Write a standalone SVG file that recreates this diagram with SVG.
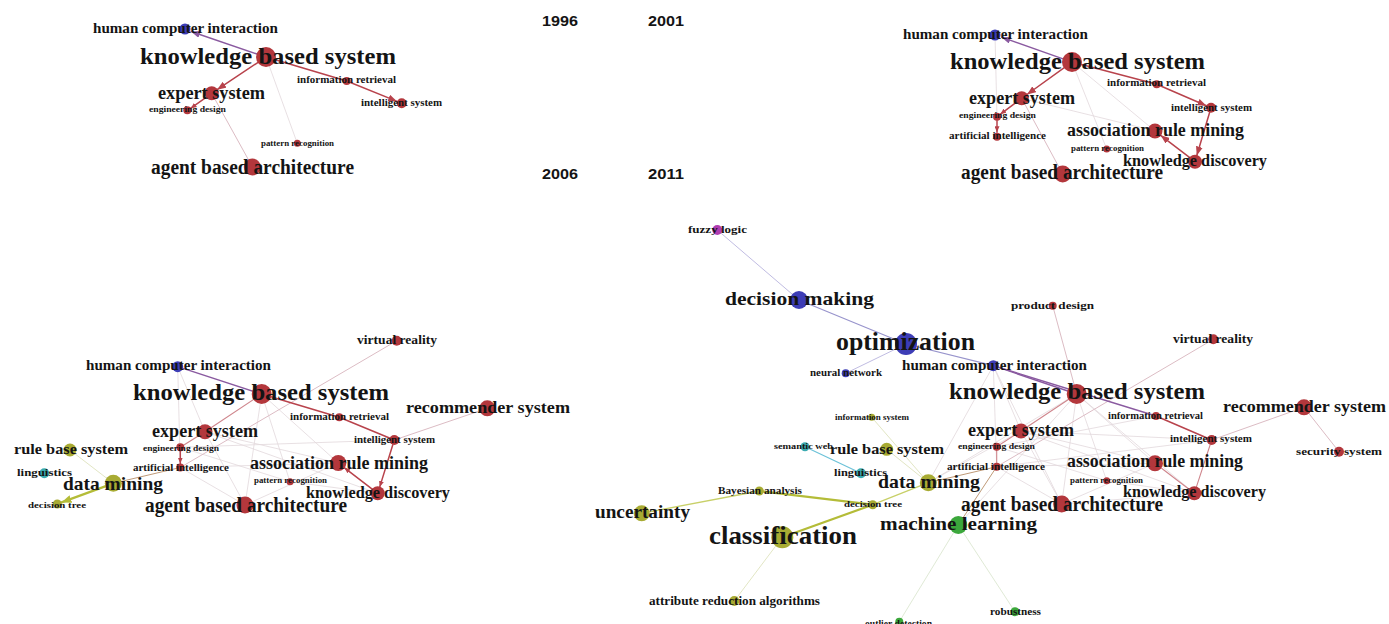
<svg xmlns="http://www.w3.org/2000/svg" width="1389" height="624" viewBox="0 0 1389 624">
<style>
.bg{fill:#ffffff}
.r{fill:#b3373c}.b{fill:#3d3db6}.o{fill:#a8ab33}.c{fill:#3babb1}.g{fill:#3ba73b}.m{fill:#b03cb0}
.t{font-family:"Liberation Serif","DejaVu Serif",serif;font-weight:bold;fill:#141414}
.y{font-family:"Liberation Sans","DejaVu Sans",sans-serif;font-weight:bold;font-size:15.5px;fill:#141414}
.e{fill:none;stroke-linecap:round}
.er{stroke:#b8434c;stroke-width:1.5}
.erl{stroke:#cf868d;stroke-width:1.1}
.ep{stroke:#8a5aa0;stroke-width:1.4}
.ef{stroke:#e2d8dc;stroke-width:0.8}
.epk{stroke:#dcbcc4;stroke-width:1}
.ey{stroke:#b4bc38;stroke-width:2.2}
.eyl{stroke:#c8d068;stroke-width:1.3}
.eyf{stroke:#e2e6c4;stroke-width:1}
.ebr{stroke:#bf9a78;stroke-width:1}
.ec{stroke:#6cc2d8;stroke-width:1.2}
.ebl{stroke:#c0bce2;stroke-width:1}
.ebd{stroke:#9894cc;stroke-width:1.2}
.egl{stroke:#e0ead6;stroke-width:1}
</style>
<defs>
<marker id="ar" markerUnits="userSpaceOnUse" markerWidth="9" markerHeight="7" refX="9" refY="3.5" orient="auto"><path d="M0,0 L9,3.5 L0,7 z" fill="#b8434c"/></marker>
<marker id="ap" markerUnits="userSpaceOnUse" markerWidth="9" markerHeight="7" refX="9" refY="3.5" orient="auto"><path d="M0,0 L9,3.5 L0,7 z" fill="#8a5aa0"/></marker>
<marker id="ay" markerUnits="userSpaceOnUse" markerWidth="10" markerHeight="8" refX="10" refY="4" orient="auto"><path d="M0,0 L10,4 L0,8 z" fill="#b4bc38"/></marker>
<marker id="as" markerUnits="userSpaceOnUse" markerWidth="6" markerHeight="5" refX="6" refY="2.5" orient="auto"><path d="M0,0 L6,2.5 L0,5 z" fill="#b8434c"/></marker>
</defs>
<rect class="bg" x="0" y="0" width="1389" height="624"/>

<g id="years">
<text class="y" x="542" y="26" textLength="36" lengthAdjust="spacingAndGlyphs">1996</text>
<text class="y" x="648" y="26" textLength="36" lengthAdjust="spacingAndGlyphs">2001</text>
<text class="y" x="542" y="179" textLength="36" lengthAdjust="spacingAndGlyphs">2006</text>
<text class="y" x="648" y="179" textLength="36" lengthAdjust="spacingAndGlyphs">2011</text>
</g>

<g id="connectors">
<!-- 1996 -->
<line class="e epk" x1="211.7" y1="93.3" x2="252.3" y2="166.7"/>
<line class="e ef" x1="266" y1="57" x2="297.3" y2="143.3"/>
<line class="e ep" x1="257" y1="54" x2="191" y2="31.5" marker-end="url(#ap)"/>
<line class="e er" x1="266" y1="57" x2="346.7" y2="81"/>
<line class="e er" x1="346.7" y1="81" x2="397.1" y2="101.4" stroke-width="2" marker-end="url(#ar)"/>
<line class="e er" x1="258.1" y1="62.3" x2="217.1" y2="89.7" marker-end="url(#ar)"/>
<line class="e er" x1="211.7" y1="93.3" x2="190.6" y2="108.4" stroke-width="1.1" marker-end="url(#as)"/>
<!-- 2001 -->
<line class="e ef" x1="995" y1="35" x2="997" y2="116.7"/>
<line class="e ef" x1="1072" y1="62" x2="1155" y2="131"/>
<line class="e ef" x1="1021.7" y1="98.3" x2="1155" y2="131"/>
<line class="e epk" x1="1021.7" y1="98.3" x2="1062.7" y2="174"/>
<line class="e ef" x1="1072" y1="62" x2="1106.7" y2="149"/>
<line class="e ep" x1="1063" y1="58.9" x2="1001.5" y2="37.2" marker-end="url(#ap)"/>
<line class="e er" x1="1072" y1="62" x2="1156.7" y2="84.3"/>
<line class="e er" x1="1156.7" y1="84.3" x2="1206.4" y2="105.7" stroke-width="2" marker-end="url(#ar)"/>
<line class="e er" x1="1064.3" y1="67.6" x2="1027" y2="94.5" marker-end="url(#ar)"/>
<line class="e er" x1="1021.7" y1="98.3" x2="1000.2" y2="114.3" stroke-width="1.1" marker-end="url(#as)"/>
<line class="e er" x1="997" y1="120.7" x2="997" y2="132.2" marker-end="url(#as)"/>
<line class="e er" x1="1209.6" y1="112.5" x2="1196.8" y2="155.5" marker-end="url(#ar)"/>
<line class="e er" x1="1189.8" y1="157.7" x2="1160.6" y2="135.3" marker-end="url(#ar)"/>
<!-- 2006 -->
<line class="e ef" x1="177.7" y1="366.7" x2="180.3" y2="467.5"/>
<line class="e ef" x1="177.7" y1="366.7" x2="205" y2="431.7"/>
<line class="e ef" x1="261.7" y1="394" x2="245" y2="505"/>
<line class="e ef" x1="261.7" y1="394" x2="338.3" y2="463"/>
<line class="e ef" x1="261.7" y1="394" x2="290" y2="481.7"/>
<line class="e ef" x1="205" y1="431.7" x2="338.3" y2="463"/>
<line class="e ef" x1="205" y1="431.7" x2="377.7" y2="493.3"/>
<line class="e ef" x1="180.3" y1="447.3" x2="394.3" y2="440"/>
<line class="e ef" x1="180.3" y1="447.3" x2="290" y2="481.7"/>
<line class="e ef" x1="180.3" y1="467.5" x2="245" y2="505"/>
<line class="e ef" x1="180.3" y1="467.5" x2="338.3" y2="463"/>
<line class="e ef" x1="290" y1="481.7" x2="377.7" y2="493.3"/>
<line class="e ef" x1="245" y1="505" x2="338.3" y2="463"/>
<line class="e ef" x1="205" y1="431.7" x2="245" y2="505"/>
<line class="e epk" x1="396.7" y1="340.7" x2="180.3" y2="467.5"/>
<line class="e epk" x1="487.3" y1="408.3" x2="394.3" y2="440"/>
<line class="e eyf" x1="70" y1="450" x2="113.3" y2="483.3"/>
<line class="e ebr" x1="113.3" y1="483.3" x2="180.3" y2="467.5"/>
<line class="e ep" x1="261.7" y1="394" x2="177.7" y2="366.7" stroke-width="1.1"/>
<line class="e er" x1="261.7" y1="394" x2="339.3" y2="417.3" stroke-width="1.2"/>
<line class="e er" x1="339.3" y1="417.3" x2="394.3" y2="440"/>
<line class="e erl" x1="261.7" y1="394" x2="205" y2="431.7"/>
<line class="e erl" x1="205" y1="431.7" x2="180.3" y2="447.3"/>
<line class="e er" x1="180.3" y1="451.3" x2="180.3" y2="463.5" stroke-width="1" marker-end="url(#as)"/>
<line class="e er" x1="392.8" y1="444.8" x2="379.7" y2="487.1" stroke-width="1.2" marker-end="url(#as)"/>
<line class="e er" x1="372.5" y1="489.3" x2="344.2" y2="467.6" stroke-width="1.2" marker-end="url(#as)"/>
<line class="e ey" x1="105.8" y1="486.1" x2="61.5" y2="502.4" marker-end="url(#ay)"/>
<!-- 2011 -->
<line class="e ef" x1="993.3" y1="365.7" x2="928.3" y2="482.7"/>
<line class="e ef" x1="993.3" y1="365.7" x2="996.7" y2="466.7"/>
<line class="e ef" x1="993.3" y1="365.7" x2="1061.7" y2="504"/>
<line class="e ef" x1="993.3" y1="365.7" x2="1021" y2="431"/>
<line class="e ef" x1="1076.7" y1="394" x2="1061.7" y2="504"/>
<line class="e ef" x1="1076.7" y1="394" x2="1155" y2="463.3"/>
<line class="e ef" x1="1076.7" y1="394" x2="1106.7" y2="480.7"/>
<line class="e ef" x1="1076.7" y1="394" x2="1194.3" y2="493.3"/>
<line class="e ef" x1="1076.7" y1="394" x2="928.3" y2="482.7"/>
<line class="e ef" x1="1021" y1="431" x2="1155" y2="463.3"/>
<line class="e ef" x1="1021" y1="431" x2="1194.3" y2="493.3"/>
<line class="e ef" x1="1021" y1="431" x2="1211.7" y2="440"/>
<line class="e ef" x1="1021" y1="431" x2="1061.7" y2="504"/>
<line class="e ef" x1="996.7" y1="446.7" x2="1156" y2="416"/>
<line class="e ef" x1="996.7" y1="446.7" x2="1106.7" y2="480.7"/>
<line class="e ef" x1="996.7" y1="466.7" x2="1061.7" y2="504"/>
<line class="e ef" x1="996.7" y1="466.7" x2="1155" y2="463.3"/>
<line class="e ef" x1="996.7" y1="466.7" x2="1211.7" y2="440"/>
<line class="e ef" x1="1106.7" y1="480.7" x2="1194.3" y2="493.3"/>
<line class="e ef" x1="1061.7" y1="504" x2="1155" y2="463.3"/>
<line class="e ef" x1="1061.7" y1="504" x2="1194.3" y2="493.3"/>
<line class="e ef" x1="928.3" y1="482.7" x2="1021" y2="431"/>
<line class="e ef" x1="958.3" y1="525" x2="1076.7" y2="394"/>
<line class="e epk" x1="1052.7" y1="305.7" x2="1076.7" y2="394"/>
<line class="e epk" x1="1213.3" y1="339.3" x2="996.7" y2="466.7"/>
<line class="e epk" x1="1304" y1="407.3" x2="1211.7" y2="440"/>
<line class="e epk" x1="1304" y1="407.3" x2="1339" y2="451.7"/>
<line class="e ebl" x1="717.3" y1="230" x2="799" y2="300"/>
<line class="e ebd" x1="799" y1="300" x2="906" y2="344"/>
<line class="e ebd" x1="906" y1="344" x2="993.3" y2="365.7" stroke="#7c78c4"/>
<line class="e ebl" x1="906" y1="344" x2="845.7" y2="373.3"/>
<line class="e ep" x1="993.3" y1="365.7" x2="1076.7" y2="394" stroke-width="1" stroke="#b29ac0"/>
<line class="e ep" x1="993.3" y1="365.7" x2="1156" y2="416" stroke-width="1" stroke="#a07098"/>
<line class="e er" x1="1156" y1="416" x2="1211.7" y2="440" stroke-width="1.1" stroke="#c06068"/>
<line class="e erl" x1="1076.7" y1="394" x2="1021" y2="431"/>
<line class="e erl" x1="1021" y1="431" x2="996.7" y2="446.7"/>
<line class="e erl" x1="996.7" y1="446.7" x2="996.7" y2="466.7"/>
<line class="e erl" x1="1211.7" y1="440" x2="1194.3" y2="493.3"/>
<line class="e erl" x1="1194.3" y1="493.3" x2="1155" y2="463.3"/>
<line class="e ebr" x1="928.3" y1="482.7" x2="996.7" y2="466.7"/>
<line class="e ebr" x1="958.3" y1="525" x2="996.7" y2="466.7"/>
<line class="e egl" x1="958.3" y1="525" x2="899.3" y2="621.7"/>
<line class="e egl" x1="958.3" y1="525" x2="1015" y2="611.7"/>
<line class="e eyf" x1="871.7" y1="417.3" x2="928.3" y2="482.7"/>
<line class="e eyf" x1="886.7" y1="449.3" x2="928.3" y2="482.7" stroke="#d8dca6"/>
<line class="e ec" x1="805" y1="446.7" x2="861" y2="473.3"/>
<line class="e eyl" x1="641.7" y1="513.3" x2="759.3" y2="491"/>
<line class="e ey" x1="759.3" y1="491" x2="872.7" y2="504.7" stroke="#a8b030"/>
<line class="e eyl" x1="872.7" y1="504.7" x2="928.3" y2="482.7" stroke="#c2ca48" stroke-width="1.6"/>
<line class="e ey" x1="872.7" y1="504.7" x2="782.3" y2="537.3" stroke-width="2"/>
<line class="e eyf" x1="782.3" y1="537.3" x2="734.3" y2="601"/>
</g>

<!-- 1996 nodes -->
<g id="n96-hci"><circle class="b" cx="185" cy="29" r="5.5"/><text class="t" x="93" y="33" font-size="14" textLength="185" lengthAdjust="spacingAndGlyphs">human computer interaction</text></g>
<g id="n96-kbs"><circle class="r" cx="266" cy="57" r="10"/><text class="t" x="140" y="64" font-size="24" textLength="256" lengthAdjust="spacingAndGlyphs">knowledge based system</text></g>
<g id="n96-ir"><circle class="r" cx="346.7" cy="81" r="4"/><text class="t" x="297" y="83" font-size="10.5" textLength="99" lengthAdjust="spacingAndGlyphs">information retrieval</text></g>
<g id="n96-is"><circle class="r" cx="401.7" cy="103.3" r="5"/><text class="t" x="361" y="106" font-size="10.5" textLength="81" lengthAdjust="spacingAndGlyphs">intelligent system</text></g>
<g id="n96-es"><circle class="r" cx="211.7" cy="93.3" r="7"/><text class="t" x="158" y="99" font-size="18" textLength="107" lengthAdjust="spacingAndGlyphs">expert system</text></g>
<g id="n96-ed"><circle class="r" cx="187.3" cy="110.3" r="4"/><text class="t" x="149" y="112" font-size="8.5" textLength="77" lengthAdjust="spacingAndGlyphs">engineering design</text></g>
<g id="n96-pr"><circle class="r" cx="297.3" cy="143.3" r="3.5"/><text class="t" x="261" y="146" font-size="8" textLength="73" lengthAdjust="spacingAndGlyphs">pattern recognition</text></g>
<g id="n96-aba"><circle class="r" cx="252.3" cy="167" r="8.5"/><text class="t" x="151" y="174" font-size="20.5" textLength="203" lengthAdjust="spacingAndGlyphs">agent based architecture</text></g>

<!-- 2001 nodes -->
<g id="n01-hci"><circle class="b" cx="995" cy="35" r="5.5"/><text class="t" x="903" y="38.5" font-size="14" textLength="185" lengthAdjust="spacingAndGlyphs">human computer interaction</text></g>
<g id="n01-kbs"><circle class="r" cx="1072" cy="62" r="10"/><text class="t" x="950" y="68.5" font-size="24" textLength="255" lengthAdjust="spacingAndGlyphs">knowledge based system</text></g>
<g id="n01-ir"><circle class="r" cx="1156.7" cy="84.3" r="4"/><text class="t" x="1107" y="86" font-size="10.5" textLength="99" lengthAdjust="spacingAndGlyphs">information retrieval</text></g>
<g id="n01-is"><circle class="r" cx="1211" cy="107.7" r="5"/><text class="t" x="1171" y="110.5" font-size="10.5" textLength="81" lengthAdjust="spacingAndGlyphs">intelligent system</text></g>
<g id="n01-es"><circle class="r" cx="1021.7" cy="98.3" r="7"/><text class="t" x="969" y="104" font-size="18" textLength="106" lengthAdjust="spacingAndGlyphs">expert system</text></g>
<g id="n01-ed"><circle class="r" cx="997" cy="116.7" r="4"/><text class="t" x="959" y="118" font-size="8.5" textLength="77" lengthAdjust="spacingAndGlyphs">engineering design</text></g>
<g id="n01-ai"><circle class="r" cx="997" cy="136.7" r="4"/><text class="t" x="949" y="138.5" font-size="10.5" textLength="97" lengthAdjust="spacingAndGlyphs">artificial intelligence</text></g>
<g id="n01-pr"><circle class="r" cx="1106.7" cy="149" r="3.5"/><text class="t" x="1071" y="150.5" font-size="8" textLength="73" lengthAdjust="spacingAndGlyphs">pattern recognition</text></g>
<g id="n01-arm"><circle class="r" cx="1155" cy="131" r="7.5"/><text class="t" x="1067" y="136" font-size="18" textLength="177" lengthAdjust="spacingAndGlyphs">association rule mining</text></g>
<g id="n01-kd"><circle class="r" cx="1195" cy="161.7" r="7"/><text class="t" x="1123" y="166" font-size="17" textLength="144" lengthAdjust="spacingAndGlyphs">knowledge discovery</text></g>
<g id="n01-aba"><circle class="r" cx="1062.7" cy="174" r="8.5"/><text class="t" x="961" y="179" font-size="20.5" textLength="202" lengthAdjust="spacingAndGlyphs">agent based architecture</text></g>

<!-- 2006 nodes -->
<g id="n06-vr"><circle class="r" cx="396.7" cy="340.7" r="5"/><text class="t" x="357" y="344" font-size="12.5" textLength="80" lengthAdjust="spacingAndGlyphs">virtual reality</text></g>
<g id="n06-hci"><circle class="b" cx="177.7" cy="366.7" r="5.5"/><text class="t" x="86" y="370" font-size="14" textLength="185" lengthAdjust="spacingAndGlyphs">human computer interaction</text></g>
<g id="n06-kbs"><circle class="r" cx="261.7" cy="394" r="10"/><text class="t" x="133" y="400" font-size="24" textLength="256" lengthAdjust="spacingAndGlyphs">knowledge based system</text></g>
<g id="n06-rec"><circle class="r" cx="487.3" cy="408.3" r="8"/><text class="t" x="406" y="413" font-size="17" textLength="164" lengthAdjust="spacingAndGlyphs">recommender system</text></g>
<g id="n06-ir"><circle class="r" cx="339.3" cy="417.3" r="4"/><text class="t" x="290" y="420" font-size="10.5" textLength="99" lengthAdjust="spacingAndGlyphs">information retrieval</text></g>
<g id="n06-is"><circle class="r" cx="394.3" cy="440" r="5"/><text class="t" x="354" y="443" font-size="10.5" textLength="81" lengthAdjust="spacingAndGlyphs">intelligent system</text></g>
<g id="n06-es"><circle class="r" cx="205" cy="431.7" r="7.5"/><text class="t" x="152" y="437" font-size="18" textLength="106" lengthAdjust="spacingAndGlyphs">expert system</text></g>
<g id="n06-rbs"><circle class="o" cx="70" cy="450" r="6.5"/><text class="t" x="14" y="454" font-size="15" textLength="114" lengthAdjust="spacingAndGlyphs">rule base system</text></g>
<g id="n06-ed"><circle class="r" cx="180.3" cy="447.3" r="4"/><text class="t" x="143" y="450.5" font-size="8.5" textLength="76" lengthAdjust="spacingAndGlyphs">engineering design</text></g>
<g id="n06-ling"><circle class="c" cx="44.3" cy="473.3" r="5"/><text class="t" x="17" y="476" font-size="10.5" textLength="55" lengthAdjust="spacingAndGlyphs">linguistics</text></g>
<g id="n06-ai"><circle class="r" cx="180.3" cy="467.5" r="4"/><text class="t" x="133" y="471" font-size="10.5" textLength="96" lengthAdjust="spacingAndGlyphs">artificial intelligence</text></g>
<g id="n06-arm"><circle class="r" cx="338.3" cy="463" r="8"/><text class="t" x="250" y="468.5" font-size="18" textLength="178" lengthAdjust="spacingAndGlyphs">association rule mining</text></g>
<g id="n06-pr"><circle class="r" cx="290" cy="481.7" r="3.5"/><text class="t" x="254" y="483" font-size="8" textLength="73" lengthAdjust="spacingAndGlyphs">pattern recognition</text></g>
<g id="n06-dm"><circle class="o" cx="113.3" cy="483.3" r="8.5"/><text class="t" x="63" y="489.5" font-size="19" textLength="100" lengthAdjust="spacingAndGlyphs">data mining</text></g>
<g id="n06-dt"><circle class="o" cx="57.3" cy="504" r="4.5"/><text class="t" x="28" y="507.5" font-size="9" textLength="58" lengthAdjust="spacingAndGlyphs">decision tree</text></g>
<g id="n06-kd"><circle class="r" cx="377.7" cy="493.3" r="7"/><text class="t" x="306" y="497.5" font-size="17" textLength="144" lengthAdjust="spacingAndGlyphs">knowledge discovery</text></g>
<g id="n06-aba"><circle class="r" cx="245" cy="505" r="8.5"/><text class="t" x="145" y="512" font-size="20.5" textLength="202" lengthAdjust="spacingAndGlyphs">agent based architecture</text></g>

<!-- 2011 nodes -->
<g id="n11-fl"><circle class="m" cx="717.3" cy="230" r="5"/><text class="t" x="688" y="233" font-size="11" textLength="59" lengthAdjust="spacingAndGlyphs">fuzzy logic</text></g>
<g id="n11-dmk"><circle class="b" cx="799" cy="300" r="9"/><text class="t" x="725" y="305" font-size="19.5" textLength="149" lengthAdjust="spacingAndGlyphs">decision making</text></g>
<g id="n11-pd"><circle class="r" cx="1052.7" cy="305.7" r="4"/><text class="t" x="1011" y="308.5" font-size="11" textLength="83" lengthAdjust="spacingAndGlyphs">product design</text></g>
<g id="n11-opt"><circle class="b" cx="906" cy="344" r="11"/><text class="t" x="836" y="350" font-size="24.5" textLength="139" lengthAdjust="spacingAndGlyphs">optimization</text></g>
<g id="n11-vr"><circle class="r" cx="1213.3" cy="339.3" r="5"/><text class="t" x="1173" y="343" font-size="12.5" textLength="80" lengthAdjust="spacingAndGlyphs">virtual reality</text></g>
<g id="n11-nn"><circle class="b" cx="845.7" cy="373.3" r="4"/><text class="t" x="810" y="375.5" font-size="9.5" textLength="72" lengthAdjust="spacingAndGlyphs">neural network</text></g>
<g id="n11-hci"><circle class="b" cx="993.3" cy="365.7" r="5.5"/><text class="t" x="902" y="369.5" font-size="14" textLength="185" lengthAdjust="spacingAndGlyphs">human computer interaction</text></g>
<g id="n11-kbs"><circle class="r" cx="1076.7" cy="394" r="10"/><text class="t" x="949" y="399" font-size="24" textLength="256" lengthAdjust="spacingAndGlyphs">knowledge based system</text></g>
<g id="n11-rec"><circle class="r" cx="1304" cy="407.3" r="8"/><text class="t" x="1223" y="412" font-size="17" textLength="163" lengthAdjust="spacingAndGlyphs">recommender system</text></g>
<g id="n11-infs"><circle class="o" cx="871.7" cy="417.3" r="3.5"/><text class="t" x="835" y="419.5" font-size="8.5" textLength="74" lengthAdjust="spacingAndGlyphs">information system</text></g>
<g id="n11-ir"><circle class="r" cx="1156" cy="416" r="4"/><text class="t" x="1108" y="418.5" font-size="10.5" textLength="95" lengthAdjust="spacingAndGlyphs">information retrieval</text></g>
<g id="n11-es"><circle class="r" cx="1021" cy="431" r="7.5"/><text class="t" x="968" y="435.5" font-size="18" textLength="106" lengthAdjust="spacingAndGlyphs">expert system</text></g>
<g id="n11-is"><circle class="r" cx="1211.7" cy="440" r="5"/><text class="t" x="1170" y="442" font-size="10.5" textLength="82" lengthAdjust="spacingAndGlyphs">intelligent system</text></g>
<g id="n11-sw"><circle class="c" cx="805" cy="446.7" r="4.5"/><text class="t" x="774" y="449" font-size="9" textLength="59" lengthAdjust="spacingAndGlyphs">semantic web</text></g>
<g id="n11-rbs"><circle class="o" cx="886.7" cy="449.3" r="6.5"/><text class="t" x="830" y="453.5" font-size="15" textLength="114" lengthAdjust="spacingAndGlyphs">rule base system</text></g>
<g id="n11-ed"><circle class="r" cx="996.7" cy="446.7" r="4"/><text class="t" x="958" y="448.5" font-size="8.5" textLength="77" lengthAdjust="spacingAndGlyphs">engineering design</text></g>
<g id="n11-sec"><circle class="r" cx="1339" cy="451.7" r="5"/><text class="t" x="1296" y="454.5" font-size="10.5" textLength="86" lengthAdjust="spacingAndGlyphs">security system</text></g>
<g id="n11-ling"><circle class="c" cx="861" cy="473.3" r="5"/><text class="t" x="834" y="475.5" font-size="10.5" textLength="53" lengthAdjust="spacingAndGlyphs">linguistics</text></g>
<g id="n11-ai"><circle class="r" cx="996.7" cy="466.7" r="4"/><text class="t" x="947" y="470" font-size="10.5" textLength="98" lengthAdjust="spacingAndGlyphs">artificial intelligence</text></g>
<g id="n11-arm"><circle class="r" cx="1155" cy="463.3" r="8"/><text class="t" x="1067" y="467" font-size="18" textLength="176" lengthAdjust="spacingAndGlyphs">association rule mining</text></g>
<g id="n11-dm"><circle class="o" cx="928.3" cy="482.7" r="8.5"/><text class="t" x="878" y="488" font-size="19" textLength="102" lengthAdjust="spacingAndGlyphs">data mining</text></g>
<g id="n11-pr"><circle class="r" cx="1106.7" cy="480.7" r="3.5"/><text class="t" x="1070" y="483" font-size="8" textLength="73" lengthAdjust="spacingAndGlyphs">pattern recognition</text></g>
<g id="n11-ba"><circle class="o" cx="759.3" cy="491" r="4.5"/><text class="t" x="718" y="493.5" font-size="10.5" textLength="84" lengthAdjust="spacingAndGlyphs">Bayesian analysis</text></g>
<g id="n11-kd"><circle class="r" cx="1194.3" cy="493.3" r="7"/><text class="t" x="1123" y="496.5" font-size="17" textLength="143" lengthAdjust="spacingAndGlyphs">knowledge discovery</text></g>
<g id="n11-dt"><circle class="o" cx="872.7" cy="504.7" r="4.5"/><text class="t" x="844" y="507" font-size="9" textLength="58" lengthAdjust="spacingAndGlyphs">decision tree</text></g>
<g id="n11-aba"><circle class="r" cx="1061.7" cy="504" r="8.5"/><text class="t" x="961" y="510.5" font-size="20.5" textLength="202" lengthAdjust="spacingAndGlyphs">agent based architecture</text></g>
<g id="n11-unc"><circle class="o" cx="641.7" cy="513.3" r="8"/><text class="t" x="595" y="518" font-size="19" textLength="95" lengthAdjust="spacingAndGlyphs">uncertainty</text></g>
<g id="n11-ml"><circle class="g" cx="958.3" cy="525" r="9"/><text class="t" x="880" y="530" font-size="19" textLength="157" lengthAdjust="spacingAndGlyphs">machine learning</text></g>
<g id="n11-cls"><circle class="o" cx="782.3" cy="537.3" r="11"/><text class="t" x="709" y="543.5" font-size="24.5" textLength="148" lengthAdjust="spacingAndGlyphs">classification</text></g>
<g id="n11-ara"><circle class="o" cx="734.3" cy="601" r="5"/><text class="t" x="649" y="604.5" font-size="12.5" textLength="171" lengthAdjust="spacingAndGlyphs">attribute reduction algorithms</text></g>
<g id="n11-rob"><circle class="g" cx="1015" cy="611.7" r="4.5"/><text class="t" x="990" y="614.5" font-size="11" textLength="51" lengthAdjust="spacingAndGlyphs">robustness</text></g>
<g id="n11-od"><circle class="g" cx="899.3" cy="621.7" r="4"/><text class="t" x="865" y="627" font-size="9.5" textLength="67" lengthAdjust="spacingAndGlyphs">outlier detection</text></g>
</svg>
